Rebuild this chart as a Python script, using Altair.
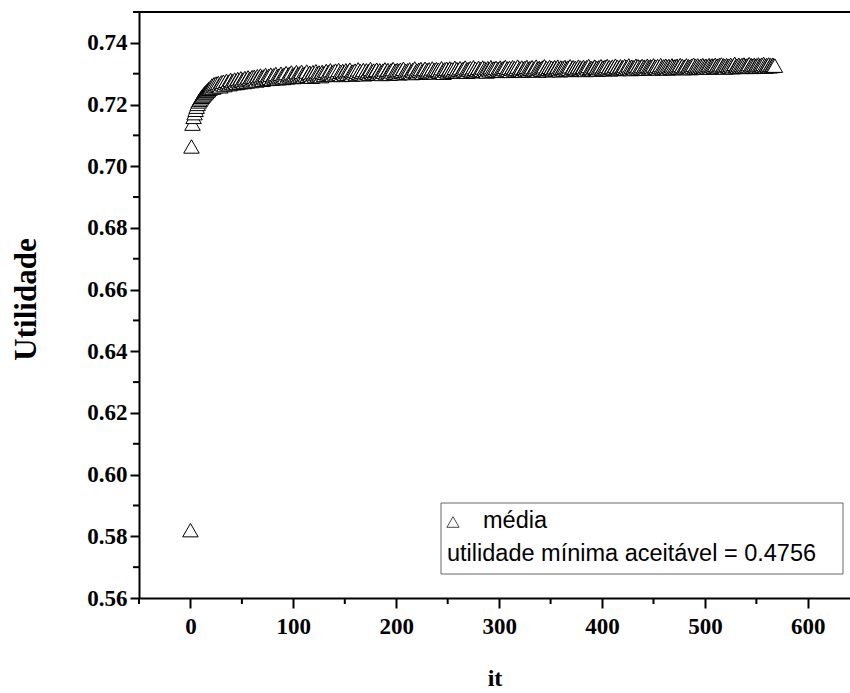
import altair as alt
import pandas as pd

# Utilidade média por iteração (em unidades de 1e-4)
media_it_000_020 = [5820, 7064, 7138, 7160, 7172, 7183, 7193, 7202, 7210, 7215,
                    7220, 7225, 7229, 7233, 7237, 7240, 7244, 7247, 7251, 7253,
                    7256]
media_it_021_060 = [7262, 7255, 7266, 7259, 7268, 7261, 7270, 7264, 7259, 7272,
                    7266, 7274, 7263, 7271, 7277, 7268, 7273, 7266, 7280, 7271,
                    7276, 7269, 7281, 7274, 7270, 7283, 7276, 7272, 7285, 7277,
                    7281, 7273, 7286, 7279, 7275, 7288, 7280, 7284, 7276, 7289]
media_it_061_130 = [7281, 7290, 7284, 7278, 7292, 7286, 7282, 7294, 7287, 7280,
                    7291, 7285, 7296, 7288, 7283, 7293, 7287, 7297, 7284, 7291,
                    7295, 7286, 7299, 7290, 7285, 7294, 7289, 7300, 7292, 7286,
                    7297, 7290, 7302, 7288, 7295, 7299, 7291, 7304, 7294, 7289,
                    7298, 7292, 7305, 7296, 7290, 7301, 7294, 7306, 7297, 7291,
                    7300, 7295, 7307, 7293, 7299, 7303, 7296, 7290, 7305, 7298,
                    7294, 7308, 7300, 7295, 7304, 7298, 7292, 7306, 7301, 7296]
media_it_131_250 = [7303, 7309, 7297, 7305, 7300, 7311, 7302, 7296, 7307, 7301,
                    7310, 7298, 7304, 7312, 7300, 7306, 7296, 7309, 7303, 7299,
                    7311, 7305, 7300, 7308, 7313, 7302, 7297, 7307, 7304, 7310,
                    7299, 7306, 7314, 7303, 7309, 7301, 7306, 7312, 7298, 7305,
                    7311, 7303, 7308, 7300, 7315, 7306, 7302, 7310, 7304, 7309,
                    7313, 7301, 7307, 7311, 7304, 7299, 7310, 7306, 7314, 7302,
                    7308, 7312, 7305, 7300, 7311, 7307, 7315, 7303, 7309, 7304,
                    7312, 7308, 7301, 7313, 7306, 7310, 7316, 7304, 7309, 7303,
                    7311, 7307, 7314, 7305, 7302, 7312, 7308, 7317, 7306, 7310,
                    7304, 7313, 7309, 7315, 7307, 7303, 7311, 7316, 7306, 7312,
                    7308, 7314, 7305, 7310, 7317, 7307, 7312, 7304, 7315, 7309,
                    7313, 7306, 7311, 7318, 7308, 7303, 7314, 7310, 7316, 7307]
media_it_251_400 = [7312, 7317, 7309, 7314, 7306, 7311, 7319, 7310, 7315, 7308,
                    7313, 7318, 7307, 7312, 7316, 7310, 7320, 7311, 7306, 7315,
                    7312, 7318, 7309, 7314, 7321, 7311, 7316, 7308, 7313, 7319,
                    7310, 7315, 7312, 7320, 7309, 7317, 7313, 7307, 7318, 7314,
                    7311, 7321, 7315, 7310, 7317, 7313, 7319, 7309, 7316, 7312,
                    7320, 7314, 7310, 7318, 7315, 7322, 7311, 7317, 7313, 7319,
                    7309, 7316, 7321, 7314, 7318, 7311, 7315, 7323, 7312, 7317,
                    7314, 7320, 7310, 7316, 7319, 7313, 7322, 7315, 7311, 7318,
                    7316, 7321, 7312, 7317, 7314, 7323, 7315, 7310, 7319, 7316,
                    7313, 7320, 7317, 7324, 7314, 7318, 7311, 7316, 7322, 7315,
                    7319, 7312, 7317, 7321, 7314, 7318, 7323, 7316, 7311, 7320,
                    7315, 7319, 7313, 7322, 7317, 7314, 7320, 7316, 7324, 7312,
                    7318, 7321, 7315, 7319, 7313, 7317, 7323, 7316, 7320, 7314,
                    7319, 7322, 7316, 7312, 7321, 7317, 7325, 7315, 7319, 7318,
                    7314, 7320, 7323, 7316, 7319, 7313, 7321, 7318, 7324, 7316]
media_it_401_568 = [7320, 7315, 7322, 7318, 7325, 7317, 7321, 7314, 7319, 7323,
                    7316, 7320, 7326, 7318, 7322, 7315, 7320, 7324, 7317, 7321,
                    7319, 7325, 7316, 7322, 7318, 7327, 7320, 7315, 7323, 7319,
                    7321, 7317, 7326, 7320, 7324, 7316, 7322, 7319, 7325, 7318,
                    7323, 7320, 7316, 7326, 7321, 7318, 7324, 7322, 7317, 7327,
                    7320, 7323, 7319, 7325, 7317, 7322, 7328, 7321, 7318, 7324,
                    7320, 7326, 7322, 7317, 7325, 7321, 7319, 7327, 7323, 7318,
                    7324, 7320, 7326, 7322, 7319, 7328, 7321, 7325, 7318, 7323,
                    7321, 7327, 7320, 7324, 7322, 7318, 7326, 7323, 7329, 7320,
                    7325, 7321, 7327, 7323, 7319, 7326, 7322, 7328, 7324, 7320,
                    7326, 7323, 7321, 7328, 7324, 7320, 7327, 7325, 7322, 7329,
                    7323, 7326, 7321, 7328, 7324, 7330, 7322, 7327, 7325, 7320,
                    7328, 7324, 7326, 7322, 7329, 7325, 7321, 7327, 7332, 7324,
                    7326, 7323, 7329, 7325, 7322, 7328, 7324, 7330, 7326, 7322,
                    7327, 7325, 7331, 7323, 7328, 7326, 7322, 7329, 7325, 7327,
                    7323, 7330, 7326, 7324, 7329, 7325, 7332, 7327, 7323, 7328,
                    7326, 7330, 7324, 7328, 7325, 7329, 7327, 7326]

x_ticks = [0, 100, 200, 300, 400, 500, 600]
x_minor_ticks = [-50, 50, 150, 250, 350, 450, 550]
y_ticks = [0.56, 0.58, 0.60, 0.62, 0.64, 0.66, 0.68, 0.70, 0.72, 0.74]
y_minor_ticks = [0.57, 0.59, 0.61, 0.63, 0.65, 0.67, 0.69, 0.71, 0.73, 0.75]
legend_label = "média"
legend_note = "utilidade mínima aceitável = 0.4756"

valores = (media_it_000_020 + media_it_021_060 + media_it_061_130
           + media_it_131_250 + media_it_251_400 + media_it_401_568)
df = pd.DataFrame({"it": list(range(len(valores))),
                   "Utilidade": [v / 10000 for v in valores]})

W, H = 711, 586
x_scale = alt.Scale(domain=[-50, 641], nice=False, zero=False)
y_scale = alt.Scale(domain=[0.56, 0.75], nice=False, zero=False)

SERIF = "Liberation Serif"
SANS = "Liberation Sans"

x_axis = alt.Axis(values=x_ticks, format="d", grid=False, title="it",
                  labelFont=SERIF, labelFontWeight="bold", labelFontSize=23,
                  labelColor="black", labelPadding=7,
                  tickSize=10, tickWidth=2, tickColor="black",
                  domainColor="black", domainWidth=2,
                  titleFont=SERIF, titleFontWeight="bold", titleFontSize=24,
                  titleColor="black", titleBaseline="alphabetic", titleY=87)
y_axis = alt.Axis(values=y_ticks, format=".2f", grid=False, title="Utilidade",
                  labelFont=SERIF, labelFontWeight="bold", labelFontSize=23,
                  labelColor="black", labelPadding=3,
                  tickSize=9, tickWidth=2, tickColor="black",
                  domainColor="black", domainWidth=2,
                  titleFont=SERIF, titleFontWeight="bold", titleFontSize=31,
                  titleColor="black", titleBaseline="alphabetic",
                  titleX=-104, titleY=287, titleAngle=-90)

pontos = alt.Chart(df).mark_point(
    shape="triangle-up", filled=True, fill="white", stroke="black",
    strokeWidth=1, opacity=1, fillOpacity=1, size=240
).encode(
    x=alt.X("it:Q", scale=x_scale, axis=x_axis),
    y=alt.Y("Utilidade:Q", scale=y_scale, axis=y_axis),
)

minor_x = alt.Chart(pd.DataFrame({"v": x_minor_ticks})).mark_rule(
    color="black", strokeWidth=2
).encode(
    x=alt.X("v:Q", scale=x_scale),
    y=alt.value(H), y2=alt.value(H + 6),
)
minor_y = alt.Chart(pd.DataFrame({"v": y_minor_ticks})).mark_rule(
    color="black", strokeWidth=2
).encode(
    y=alt.Y("v:Q", scale=y_scale),
    x=alt.value(-6), x2=alt.value(0),
)

um = pd.DataFrame({"k": [0]})
borda_topo = alt.Chart(um).mark_rule(color="black", strokeWidth=2).encode(
    x=alt.value(0), x2=alt.value(W + 2), y=alt.value(0)
)
caixa = alt.Chart(um).mark_rect(
    fill="white", fillOpacity=0, stroke="#666666", strokeWidth=1
).encode(
    x=alt.value(302), x2=alt.value(704), y=alt.value(491), y2=alt.value(562)
)
simbolo = alt.Chart(um).mark_point(
    shape="triangle-up", filled=True, fill="white", stroke="#333333",
    strokeWidth=0.9, opacity=1, size=150
).encode(x=alt.value(314), y=alt.value(510))
texto1 = alt.Chart(um).mark_text(
    align="left", baseline="middle", font=SANS, fontSize=23.5, color="black"
).encode(x=alt.value(344), y=alt.value(509), text=alt.value(legend_label))
texto2 = alt.Chart(um).mark_text(
    align="left", baseline="middle", font=SANS, fontSize=23.5, color="black"
).encode(x=alt.value(308), y=alt.value(542), text=alt.value(legend_note))

chart = alt.layer(
    pontos, minor_x, minor_y, borda_topo, caixa, simbolo, texto1, texto2
).properties(
    width=W, height=H,
    autosize=alt.AutoSizeParams(type="none"),
    padding={"left": 139, "top": 12, "right": 0, "bottom": 95},
    background="white",
).configure_view(stroke=None)

chart.save("out.html", embed_options={"renderer": "svg", "actions": False})
